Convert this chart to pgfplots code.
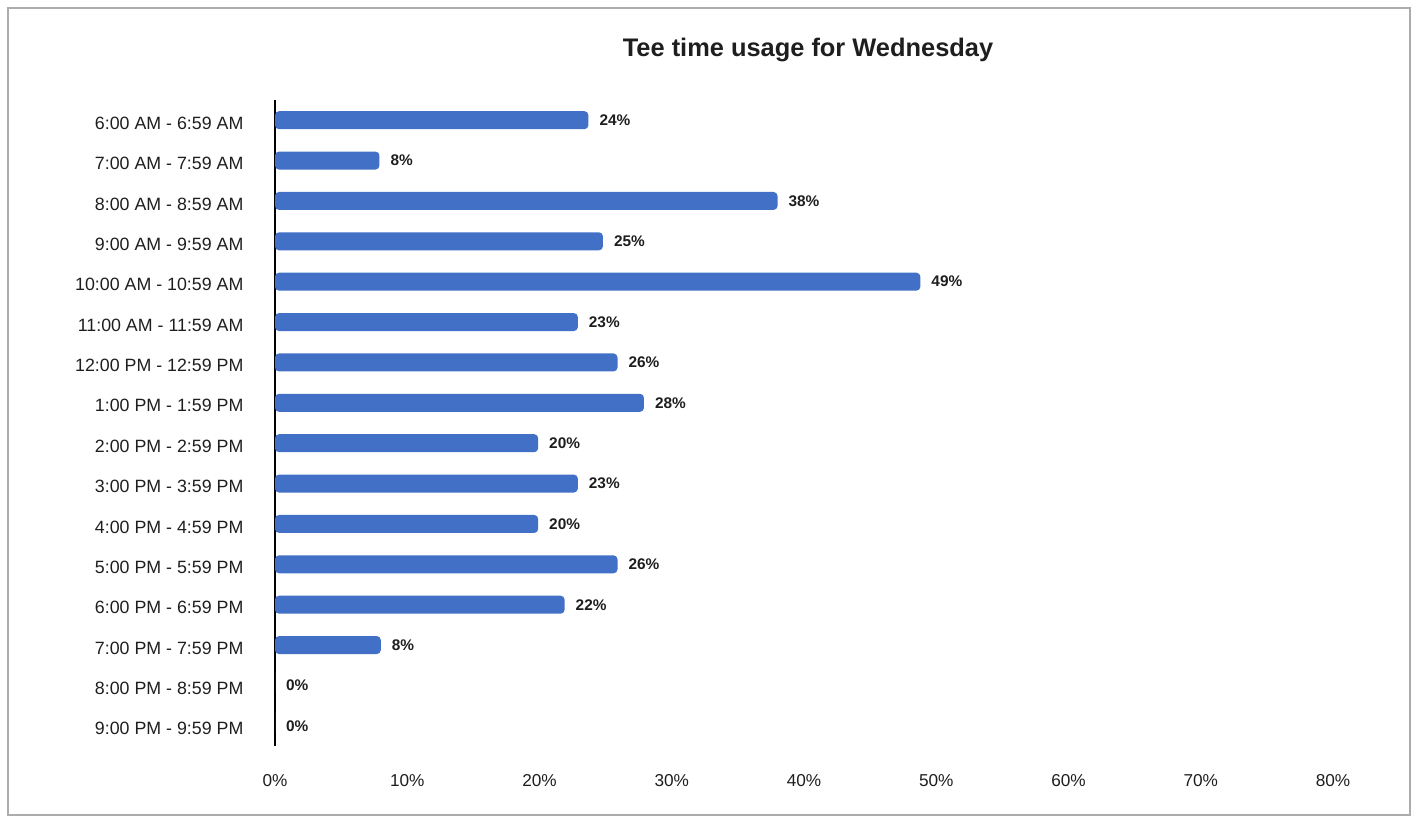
\documentclass[border=0pt]{standalone}
\usepackage{fontspec}
\setmainfont{Liberation Sans}
\usepackage{pgfplots}
\pgfplotsset{compat=1.18}
\definecolor{barblue}{RGB}{66,112,198}
\definecolor{txt}{RGB}{30,30,30}
\begin{document}
\begin{tikzpicture}
\useasboundingbox (0pt,0pt) rectangle (708.5pt,-411.5pt);
\draw[gray!65, line width=0.6pt] (4pt,-4pt) rectangle (705pt,-407.5pt);
\begin{axis}[
  at={(137.5pt,-373pt)}, anchor=south west,
  scale only axis, width=529pt, height=323pt,
  xmin=0, xmax=80, ymin=-0.5, ymax=15.5, y dir=reverse,
  axis lines*=left,
  x axis line style={draw=none},
  y axis line style={black, line width=0.9pt},
  xtick={0,10,...,80},
  xticklabel={\pgfmathprintnumber{\tick}\%},
  /pgf/number format/assume math mode=true,
  xtick style={draw=none}, ytick style={draw=none},
  ytick={0,...,15},
  yticklabels={6:00 AM - 6:59 AM, 7:00 AM - 7:59 AM, 8:00 AM - 8:59 AM, 9:00 AM - 9:59 AM, 10:00 AM - 10:59 AM, 11:00 AM - 11:59 AM, 12:00 PM - 12:59 PM, 1:00 PM - 1:59 PM, 2:00 PM - 2:59 PM, 3:00 PM - 3:59 PM, 4:00 PM - 4:59 PM, 5:00 PM - 5:59 PM, 6:00 PM - 6:59 PM, 7:00 PM - 7:59 PM, 8:00 PM - 8:59 PM, 9:00 PM - 9:59 PM},
  yticklabel style={font=\fontsize{8.9}{10}\selectfont, text=txt, xshift=-8pt, yshift=-1.5pt},
  xticklabel style={font=\fontsize{8.6}{10}\selectfont, text=txt, anchor=center, yshift=-17.3pt},
  title={Tee time usage for Wednesday},
  title style={font=\bfseries\fontsize{12.7}{15}\selectfont, text=txt, at={(0.5,1)}, anchor=center, yshift=19pt, xshift=2pt},
  xbar, bar width=9pt,
  nodes near coords={\pgfmathprintnumber[fixed,precision=0]{\pgfplotspointmeta}\%},
  point meta=x,
  nodes near coords style={font=\bfseries\fontsize{7.7}{9}\selectfont, text=txt, anchor=west, xshift=2pt},
]
\addplot[fill=barblue, draw=none, rounded corners=2pt] coordinates {
(23.7,0) (7.9,1) (38.0,2) (24.8,3) (48.8,4) (22.9,5) (25.9,6) (27.9,7)
(19.9,8) (22.9,9) (19.9,10) (25.9,11) (21.9,12) (8.0,13) (0,14) (0,15)
};
\end{axis}
\end{tikzpicture}
\end{document}
